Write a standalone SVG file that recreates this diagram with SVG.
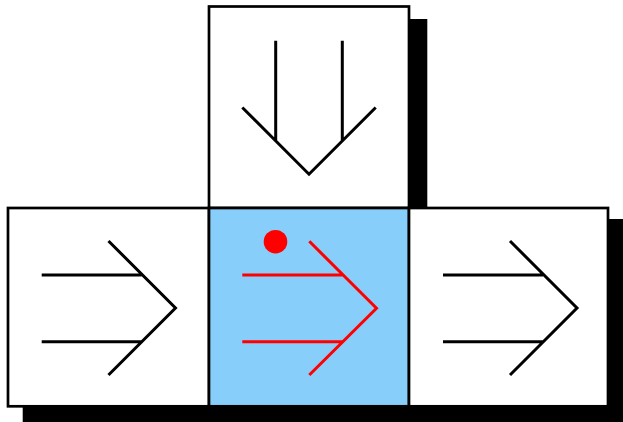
<svg xmlns="http://www.w3.org/2000/svg" width="623" height="422" viewBox="0 0 623 422">
<style>
.shadow{fill:#000}
.box{fill:#fff;stroke:#000;stroke-width:2.7}
.box.active{fill:#87CEFA}
.arw{fill:none;stroke:#000;stroke-width:3;stroke-linecap:butt;stroke-linejoin:miter}
.arw.red{stroke:#f00}
</style>
<g id="shadows">
<rect class="shadow" x="223" y="19" width="204.3" height="200"/>
<rect class="shadow" x="22.7" y="220" width="204" height="205"/>
<rect class="shadow" x="223" y="220" width="204" height="205"/>
<rect class="shadow" x="423" y="219" width="204" height="206"/>
</g>
<g id="cell-top">
<rect class="box" x="209" y="6.5" width="200" height="201.5"/>
<path class="arw" d="M275.7,40.7V141.5M342.3,40.7V141.5M242.3,107.5L309,174.2L375.7,107.5"/>
</g>
<g id="cell-left">
<rect class="box" x="8" y="208" width="201" height="198.3"/>
<path class="arw" d="M41.7,275H141.5M41.7,341.7H141.5M108.5,241L175.5,308L108.5,375"/>
</g>
<g id="cell-middle">
<rect class="box active" x="209" y="208" width="200" height="198.3"/>
<path class="arw red" d="M242.3,275H342.5M242.3,341.7H342.5M309.3,241.3L376.5,308.3L309.3,375"/>
<circle cx="275.5" cy="241.7" r="11.8" fill="#f00"/>
</g>
<g id="cell-right">
<rect class="box" x="409" y="208" width="199" height="198.3"/>
<path class="arw" d="M443,275H543M443,341.7H543M510,241L577,308L510,375"/>
</g>
</svg>
